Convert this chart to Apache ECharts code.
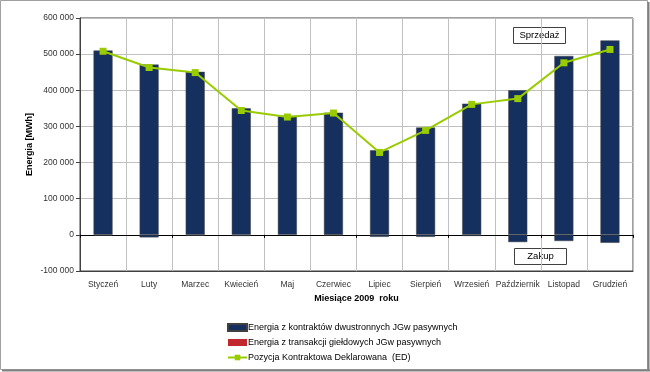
<!DOCTYPE html>
<html>
<head>
<meta charset="utf-8">
<script src="https://cdn.jsdelivr.net/npm/echarts@6/dist/echarts.min.js"></script>
<style>
html,body{margin:0;padding:0;background:#fff;}
#chart{width:650px;height:372px;}
</style>
</head>
<body>
<div id="chart"></div>
<script>
var months = ['Styczeń','Luty','Marzec','Kwiecień','Maj','Czerwiec','Lipiec','Sierpień','Wrzesień','Październik','Listopad','Grudzień'];
var contractsSale = [510000, 471000, 451000, 350000, 328000, 338000, 234000, 297000, 363000, 400000, 495000, 538000];
var contractsPurchase = [-2000, -7000, -2000, -3000, 0, -1000, -5500, -5500, -3000, -20000, -17000, -22000];
var exchange = [0, 0, 0, 0, 0, 0, 0, 0, 0, 0, 0, 0];
var declaredPosition = [508000, 463000, 449000, 344000, 326000, 337000, 228000, 289000, 361000, 377000, 476000, 513000];
var yTicks = {min: -100000, max: 600000, interval: 100000};

var NAME_BAR = 'Energia z kontraktów dwustronnych JGw pasywnych';
var NAME_RED = 'Energia z transakcji giełdowych JGw pasywnych';
var NAME_LINE = 'Pozycja Kontraktowa Deklarowana  (ED)';
var FONT = 'Liberation Sans, Arial, sans-serif';

var chart = echarts.init(document.getElementById('chart'), null, {renderer: 'canvas'});
chart.setOption({
  animation: false,
  backgroundColor: '#fff',
  textStyle: {fontFamily: FONT},
  grid: {left: 80, right: 17, top: 18, bottom: 101, show: true, borderColor: '#404040', borderWidth: 1},
  legend: {
    orient: 'vertical', left: 227, top: 323, padding: 0, height: 48, itemWidth: 19, itemHeight: 7, itemGap: 6,
    textStyle: {fontFamily: FONT, fontSize: 9, color: '#000', padding: [0,0,0,-4]},
    data: [
      {name: NAME_BAR, icon: 'rect'},
      {name: NAME_RED, icon: 'rect'},
      {name: NAME_LINE}
    ]
  },
  xAxis: [{
    type: 'category', data: months, boundaryGap: true,
    name: 'Miesiące 2009  roku', nameLocation: 'middle', nameGap: 21,
    nameTextStyle: {fontFamily: FONT, fontSize: 9, fontWeight: 'bold', color: '#000'},
    axisLine: {onZero: false, lineStyle: {color: '#404040'}},
    axisTick: {show: false},
    axisLabel: {fontFamily: FONT, fontSize: 8.5, color: '#333', margin: 9, interval: 0},
    splitLine: {show: true, lineStyle: {color: '#c0c0c0', width: 1}}
  }, {
    type: 'category', data: months, boundaryGap: true, position: 'bottom',
    axisLine: {onZero: true, lineStyle: {color: '#000'}},
    axisTick: {show: true, length: 3, lineStyle: {color: '#000'}},
    axisLabel: {show: false},
    splitLine: {show: false}
  }],
  yAxis: {
    type: 'value', min: yTicks.min, max: yTicks.max, interval: yTicks.interval,
    name: 'Energia [MWh]', nameLocation: 'middle', nameGap: 46, nameMoveOverlap: false,
    nameTextStyle: {fontFamily: FONT, fontSize: 9, fontWeight: 'bold', color: '#000'},
    axisLine: {show: true, lineStyle: {color: '#404040'}},
    axisTick: {show: true, length: 4, lineStyle: {color: '#404040'}},
    axisLabel: {fontFamily: FONT, fontSize: 8.5, color: '#333', margin: 6,
      formatter: function (v) {
        var s = Math.abs(v).toString().replace(/\B(?=(\d{3})+(?!\d))/g, ' ');
        return (v < 0 ? '-' : '') + s;
      }},
    splitLine: {show: true, lineStyle: {color: '#c0c0c0', width: 1}}
  },
  series: [{
    name: NAME_BAR, type: 'bar', stack: 'e', data: contractsSale, barWidth: 19,
    itemStyle: {color: '#15305e', borderColor: '#404040', borderWidth: 0.5}
  }, {
    name: NAME_BAR, type: 'bar', stack: 'e', data: contractsPurchase, barWidth: 19,
    itemStyle: {color: '#15305e', borderColor: '#404040', borderWidth: 0.5}
  }, {
    name: NAME_RED, type: 'bar', stack: 'e', data: exchange, barWidth: 19,
    itemStyle: {color: '#c0282d', borderColor: '#404040', borderWidth: 0}
  }, {
    name: NAME_LINE, type: 'line', data: declaredPosition, z: 5,
    symbol: 'rect', symbolSize: 7,
    lineStyle: {color: '#99cc00', width: 2}, itemStyle: {color: '#99cc00'}
  }],
  graphic: [
    {type: 'rect', shape: {x: 0.5, y: 0.5, width: 647, height: 369}, style: {fill: 'none', stroke: '#a0a0a0', lineWidth: 1}, z: 100},
    {type: 'line', shape: {x1: 648.5, y1: 2, x2: 648.5, y2: 371}, style: {stroke: '#808080', lineWidth: 2}, z: 100},
    {type: 'line', shape: {x1: 2, y1: 370.5, x2: 650, y2: 370.5}, style: {stroke: '#808080', lineWidth: 2}, z: 100},
    {type: 'group', left: 513, top: 27, z: 50, children: [
      {type: 'rect', shape: {x: 0.5, y: 0.5, width: 52, height: 16}, style: {fill: '#fff', stroke: '#404040', lineWidth: 1}},
      {type: 'text', x: 26.5, y: 8.5, style: {text: 'Sprzedaż', fill: '#000', font: '9.5px ' + FONT, textAlign: 'center', textVerticalAlign: 'middle'}}
    ]},
    {type: 'group', left: 514, top: 248, z: 50, children: [
      {type: 'rect', shape: {x: 0.5, y: 0.5, width: 52, height: 16}, style: {fill: '#fff', stroke: '#404040', lineWidth: 1}},
      {type: 'text', x: 26.5, y: 8.5, style: {text: 'Zakup', fill: '#000', font: '9.5px ' + FONT, textAlign: 'center', textVerticalAlign: 'middle'}}
    ]}
  ]
});
</script>
</body>
</html>
